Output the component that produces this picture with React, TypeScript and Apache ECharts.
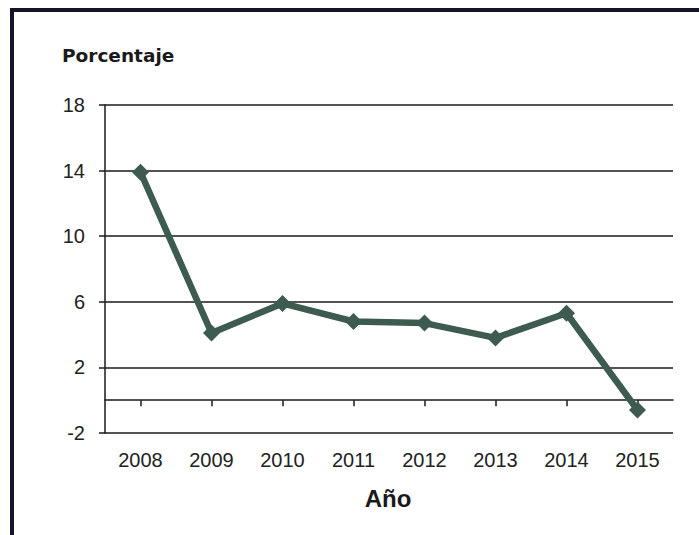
import React, { useEffect, useRef } from "react";
import * as echarts from "echarts";

const years = ["2008", "2009", "2010", "2011", "2012", "2013", "2014", "2015"];
const porcentaje = [13.9, 4.1, 5.9, 4.8, 4.7, 3.8, 5.3, -0.6];
const yTicks = { min: -2, max: 18, interval: 4 };

export default function App() {
  const ref = useRef<HTMLDivElement>(null);
  useEffect(() => {
    if (!ref.current) return;
    const chart = echarts.init(ref.current, null, { renderer: "svg" });
    const font = "Arial, 'Liberation Sans', sans-serif";
    chart.setOption({
      animation: false,
      backgroundColor: "#ffffff",
      grid: { left: 105, right: 26, top: 105, bottom: 102 },
      graphic: [
        { type: "rect", left: 10, top: 8, shape: { width: 4, height: 527 }, style: { fill: "#15152a" } },
        { type: "rect", left: 10, top: 8, shape: { width: 689, height: 4 }, style: { fill: "#15152a" } },
        {
          type: "text",
          x: 62,
          y: 46,
          style: { text: "Porcentaje", font: `bold 18.5px 'DejaVu Sans', sans-serif`, fill: "#1a1a1a" },
        },
        {
          type: "text",
          x: 388,
          y: 486,
          style: { text: "Año", font: `bold 24px ${font}`, fill: "#1a1a1a", align: "center" },
        },
      ],
      xAxis: [
        {
          type: "category",
          data: years,
          position: "bottom",
          boundaryGap: true,
          axisLine: { onZero: true, lineStyle: { color: "#1a1a1a", width: 1.5 } },
          axisTick: { show: true, alignWithLabel: true, inside: false, length: 6, lineStyle: { color: "#1a1a1a", width: 1.5 } },
          axisLabel: { show: false },
          splitLine: { show: false },
        },
        {
          type: "category",
          data: years,
          position: "bottom",
          boundaryGap: true,
          axisLine: { show: false, onZero: false },
          axisTick: { show: false },
          axisLabel: { show: true, margin: 17, fontSize: 20, fontFamily: font, color: "#222" },
          splitLine: { show: false },
        },
      ],
      yAxis: {
        type: "value",
        min: yTicks.min,
        max: yTicks.max,
        interval: yTicks.interval,
        axisLine: { show: true, lineStyle: { color: "#1a1a1a", width: 1.5 } },
        axisTick: { show: true, length: 6, lineStyle: { color: "#1a1a1a", width: 1.5 } },
        axisLabel: { fontSize: 20, fontFamily: font, color: "#222", margin: 20 },
        splitLine: { show: true, lineStyle: { color: "#1a1a1a", width: 1.5 } },
      },
      series: [
        {
          type: "line",
          data: porcentaje,
          xAxisIndex: 0,
          symbol: "diamond",
          symbolSize: 17,
          lineStyle: { color: "#3d5b4e", width: 6.5 },
          itemStyle: { color: "#3d5b4e" },
          z: 5,
        },
      ],
    });
    return () => chart.dispose();
  }, []);
  return (
    <div
      ref={ref}
      style={{ position: "absolute", left: 0, top: 0, width: 699, height: 535 }}
    />
  );
}
